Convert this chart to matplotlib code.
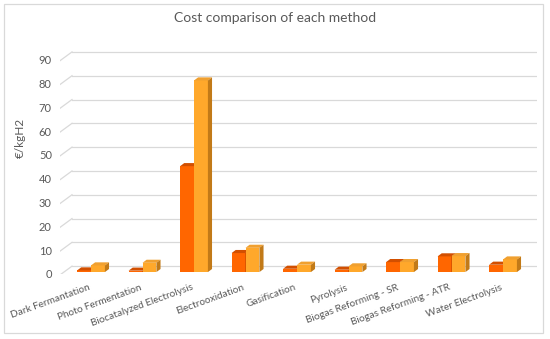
import matplotlib.pyplot as plt
from matplotlib.patches import Polygon, Rectangle

plt.rcParams['font.family'] = ['Lato', 'DejaVu Sans']

methods = ['Dark Fermantation', 'Photo Fermentation', 'Biocatalyzed Electrolysis',
           'Electrooxidation', 'Gasification', 'Pyrolysis',
           'Biogas Reforming - SR', 'Biogas Reforming - ATR', 'Water Electrolysis']
low_cost = [0.7, 0.6, 44.5, 8.0, 1.4, 1.0, 4.2, 6.6, 3.1]
high_cost = [2.8, 3.9, 80.5, 10.2, 3.1, 2.4, 4.2, 6.7, 5.3]
yticks = [0, 10, 20, 30, 40, 50, 60, 70, 80, 90]

grey = '#595959'
orange = ('#FF6600', '#D24F00', '#B84500')   # front, top, side
yellow = ('#FFA82B', '#F0A030', '#C27A18')

fig = plt.figure(figsize=(5.5, 3.39), dpi=100)
W, H = 550, 339
ax = fig.add_axes([60 / W, 1 - 274 / H, 477 / W, (274 - 45) / H])
ax.set_xlim(-0.602, 8.66)
ax.set_ylim(-0.8, 95.4)
ax.axis('off')

# 3d look: depth offsets in data units
ddx, ddy = 0.08, 1.3
wall_x, wall_dy = -0.369, 2.5
for v in yticks:
    ax.plot([wall_x, 8.66], [v + wall_dy, v + wall_dy], color='#d9d9d9', lw=0.9, zorder=1)
    ax.plot([-0.602, wall_x], [v - 1.2, v + wall_dy], color='#d9d9d9', lw=0.9, zorder=1)
    ax.text(-0.76, v - 1.2, str(v), ha='right', va='center', fontsize=8, color=grey)

bw = 0.27


def bar3d(x0, h, cols):
    x1 = x0 + bw
    ax.add_patch(Rectangle((x0, 0), bw, h, facecolor=cols[0], edgecolor='none', zorder=3))
    ax.add_patch(Polygon([(x0, h), (x0 + ddx, h + ddy), (x1 + ddx, h + ddy), (x1, h)],
                         closed=True, facecolor=cols[1], edgecolor='none', zorder=3))
    ax.add_patch(Polygon([(x1, 0), (x1 + ddx, ddy), (x1 + ddx, h + ddy), (x1, h)],
                         closed=True, facecolor=cols[2], edgecolor='none', zorder=3))


for i, name in enumerate(methods):
    bar3d(i - bw, low_cost[i], orange)
    bar3d(i, high_cost[i], yellow)
    ax.text(i - 0.06, -4.6, name, ha='right', va='top', rotation=20,
            rotation_mode='anchor', fontsize=7.2, color=grey, clip_on=False)

fig.text(275 / W, 1 - 18 / H, 'Cost comparison of each method', ha='center', va='center',
         fontsize=10, color=grey)
fig.text(20 / W, 1 - 138 / H, '€/kgH2', ha='center', va='center', rotation=90,
         fontsize=8.5, color=grey)
fig.add_artist(Rectangle((4 / W, 1 - 333 / H), 539 / W, 329 / H, transform=fig.transFigure,
                         fill=False, edgecolor='#d9d9d9', lw=0.9))

fig.savefig('out.png', dpi=100)
